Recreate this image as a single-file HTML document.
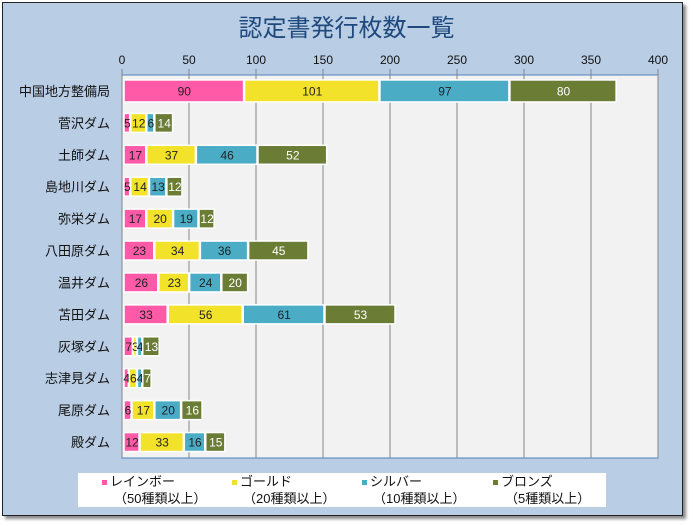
<!DOCTYPE html>
<html><head><meta charset="utf-8">
<style>
body{margin:0;width:693px;height:526px;background:#fff;font-family:"Liberation Sans","Noto Sans CJK JP",sans-serif;}
#frame{position:absolute;left:2px;top:2px;width:679px;height:512px;background:#b9cde5;border:1px solid #222;box-shadow:3px 3px 3px #888;}
#title{position:absolute;left:0;width:693px;top:8px;text-align:center;font-size:24px;color:#1f497d;}
#legend{position:absolute;left:78px;top:473px;width:528px;height:34px;background:#fff;font-size:13px;color:#111;}
.li{position:absolute;line-height:17px;white-space:nowrap;}
.sw{display:inline-block;width:5px;height:5px;margin-right:3px;vertical-align:middle;}
.sub{position:absolute;white-space:nowrap;line-height:17px;}
</style></head><body>
<div id="frame"></div>
<div id="title">認定書発行枚数一覧</div>
<svg id="chart" width="693" height="526" style="position:absolute;left:0;top:0"></svg>
<div id="legend">
 <div class="li" style="left:24px;top:0px"><span class="sw" style="background:#ff5aa8"></span>レインボー</div>
 <div class="sub" style="left:36px;top:17px">（50種類以上）</div>
 <div class="li" style="left:154px;top:0px"><span class="sw" style="background:#f2e22a"></span>ゴールド</div>
 <div class="sub" style="left:165px;top:17px">（20種類以上）</div>
 <div class="li" style="left:284px;top:0px"><span class="sw" style="background:#4bacc6"></span>シルバー</div>
 <div class="sub" style="left:295px;top:17px">（10種類以上）</div>
 <div class="li" style="left:415px;top:0px"><span class="sw" style="background:#6b7c35"></span>ブロンズ</div>
 <div class="sub" style="left:427px;top:17px">（5種類以上）</div>
</div>
<script>
const categories=["中国地方整備局","菅沢ダム","土師ダム","島地川ダム","弥栄ダム","八田原ダム","温井ダム","苫田ダム","灰塚ダム","志津見ダム","尾原ダム","殿ダム"];
const rainbow=[90,5,17,5,17,23,26,33,7,4,6,12];
const gold=[101,12,37,14,20,34,23,56,3,6,17,33];
const silver=[97,6,46,13,19,36,24,61,4,4,20,16];
const bronze=[80,14,52,12,12,45,20,53,13,7,16,15];
const ticks=[0,50,100,150,200,250,300,350,400];
const series=[{n:"rainbow",v:rainbow,c:"#ff5aa8",t:"#222"},{n:"gold",v:gold,c:"#f2e22a",t:"#222"},{n:"silver",v:silver,c:"#4bacc6",t:"#222"},{n:"bronze",v:bronze,c:"#6b7c35",t:"#fff"}];
const L=122,R=658,T=75,B=458;
const x=v=>L+(R-L)*v/400;
const band=(B-T)/categories.length;
const yc=i=>T+band*(i+0.5);
const svg=document.getElementById('chart');
const NS="http://www.w3.org/2000/svg";
function mk(tag,a){const e=document.createElementNS(NS,tag);for(const k in a)e.setAttribute(k,a[k]);svg.appendChild(e);return e;}
const bg=mk('rect',{x:L,y:T,width:R-L,height:B-T,fill:'#f2f2f2',stroke:'#4f81bd'});


ticks.forEach(t=>{
 const g=mk('line',{x1:x(t),x2:x(t),y1:T-6,y2:B,stroke:'#868686'});
 
 
 const tx=mk('text',{x:x(t),y:T-11,'text-anchor':'middle','font-size':12,fill:'#111'});
 tx.textContent=t;
 
 
});
categories.forEach((c,i)=>{
 const tx=mk('text',{x:L-12,y:yc(i)+5,'text-anchor':'end','font-size':13,fill:'#111','font-family':'"Liberation Sans","Noto Sans CJK JP",sans-serif'});
 tx.textContent=c;
 
 
 const h=i==0?22:19;
 let acc=0;
 series.forEach(s=>{
  const v=s.v[i];
  const r=mk('rect',{x:x(acc)+2,y:yc(i)-h/2,width:Math.max(x(acc+v)-x(acc)-1,1),height:h,fill:s.c,stroke:'#fff','stroke-width':1.5});
  
  
  const lt=mk('text',{x:(x(acc)+x(acc+v))/2+2,y:yc(i)+4.5,'text-anchor':'middle','font-size':12,fill:s.t});
  lt.textContent=v;
  
  
  acc+=v;
 });
});
</script>
</body></html>
